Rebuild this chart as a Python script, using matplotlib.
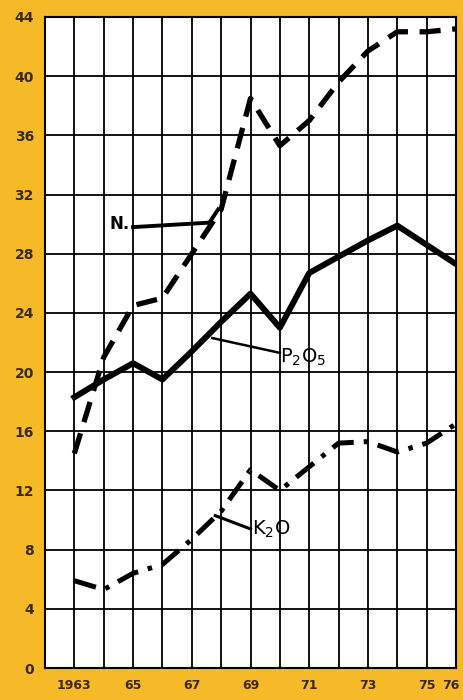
import matplotlib
matplotlib.use('Agg')
import matplotlib.pyplot as plt
import matplotlib.transforms as mtrans
import numpy as np

years = np.arange(1963, 1977)
nitrogen = [14.5, 21.0, 24.5, 25.0, 28.0, 31.0, 38.5, 35.3, 37.0, 39.6, 41.7, 43.0, 43.0, 43.2]
phosphate = [18.3, 19.5, 20.6, 19.5, 21.4, 23.4, 25.3, 23.0, 26.7, 27.8, 28.9, 29.9, 28.6, 27.3]
potash = [5.9, 5.3, 6.4, 7.0, 8.7, 10.6, 13.4, 12.0, 13.6, 15.2, 15.3, 14.6, 15.2, 16.5]

y_ticks = list(range(0, 45, 4))
x_tick_pos = [1963, 1965, 1967, 1969, 1971, 1973, 1975, 1976]
x_tick_lab = ['1963', '65', '67', '69', '71', '73', '75', '76']

bg = '#f6b928'
txt = '#3b2a12'

fig = plt.figure(figsize=(4.63, 7.0), dpi=100, facecolor=bg)
ax = fig.add_axes([45/463, 32/700, 411/463, 651/700])
ax.set_facecolor('white')

ax.set_xlim(1962, 1976)
ax.set_ylim(0, 44)
ax.set_xticks(np.arange(1962, 1977), minor=True)
ax.set_xticks(x_tick_pos)
ax.set_xticklabels(x_tick_lab)
ax.set_yticks(y_ticks)
ax.grid(True, which='both', axis='x', color='black', lw=1.3)
ax.grid(True, axis='y', color='black', lw=1.3)
ax.tick_params(length=0, which='both', colors=txt, labelsize=10, pad=8)
for lab in ax.get_xticklabels() + ax.get_yticklabels():
    lab.set_fontweight('bold')
for lab in ax.get_xticklabels():
    lab.set_fontsize(9)
# last year label sits a bit left of the edge, like the original
last = ax.get_xticklabels()[-1]
last.set_transform(last.get_transform() + mtrans.ScaledTranslation(-5/100, 0, fig.dpi_scale_trans))
for s in ax.spines.values():
    s.set_color('black')
    s.set_linewidth(1.5)

ax.plot(years, nitrogen, color='black', lw=3.8, dashes=(4, 2.2), zorder=3)
ax.plot(years, phosphate, color='black', lw=4.3, zorder=3)
ax.plot(years, potash, color='black', lw=3.6, dashes=(4.5, 2, 0.9, 2), zorder=3)

# labels with leader lines
ax.plot([1965.0, 1967.6, 1967.9], [29.8, 30.1, 31.0], color='black', lw=2.8, zorder=3)
ax.text(1964.2, 30.0, 'N.', fontsize=12, fontweight='bold', va='center', ha='left')

ax.plot([1967.7, 1970.0], [22.3, 21.3], color='black', lw=1.8, zorder=3)
ax.text(1970.0, 21.0, r'P$_2$O$_5$', fontsize=14, va='center', ha='left')

ax.plot([1967.8, 1969.0], [10.3, 9.4], color='black', lw=2.2, zorder=3)
ax.text(1969.05, 9.4, r'K$_2$O', fontsize=14, va='center', ha='left')

fig.savefig('out.png', dpi=100, facecolor=bg)
